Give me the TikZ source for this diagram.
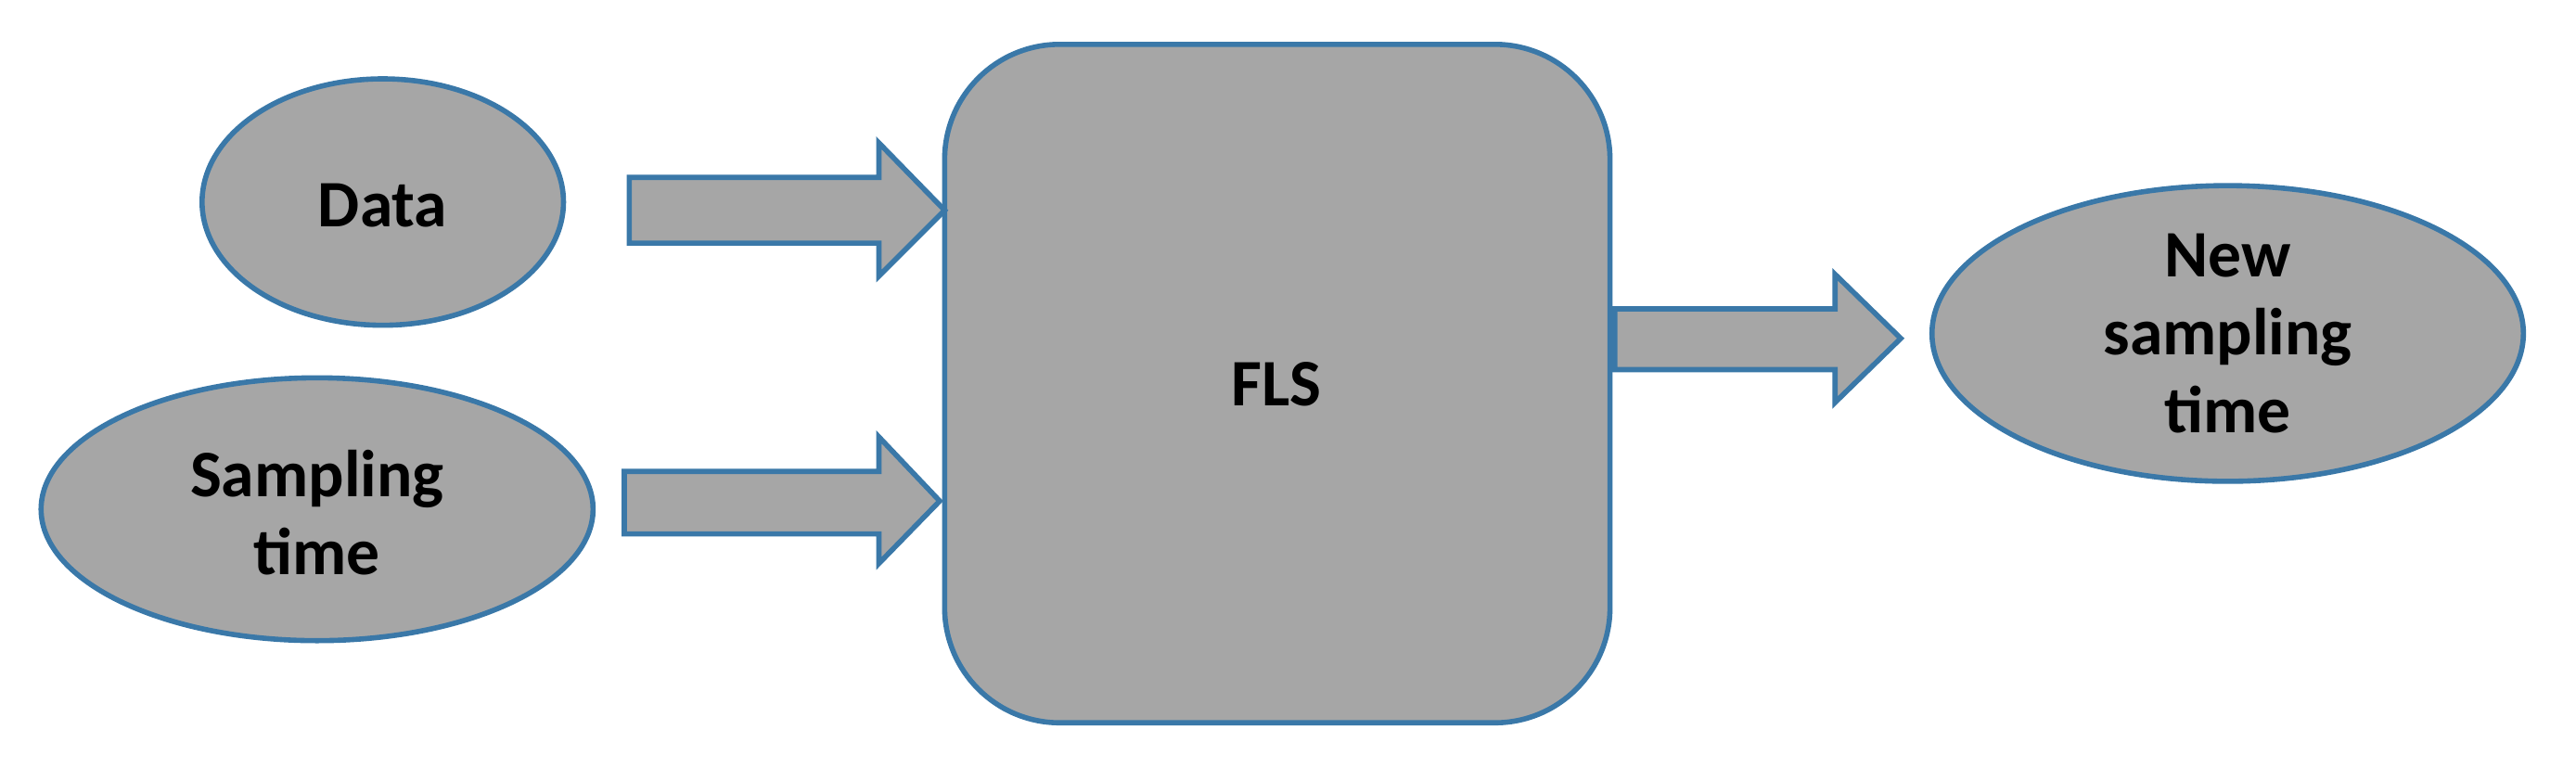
\documentclass[tikz,border=0pt]{standalone}
\usepackage{fontspec}
\setmainfont{Carlito}
\definecolor{boxfill}{HTML}{A6A6A6}
\definecolor{boxline}{HTML}{3A78A8}
\begin{document}
\begin{tikzpicture}[x=0.01cm,y=-0.01cm,
  shapestyle/.style={fill=boxfill,draw=boxline,line width=0.9pt},
  lbl/.style={font=\fontsize{11.5}{13.5}\selectfont\bfseries,align=center}]
\useasboundingbox (0,0) rectangle (1568,467);
% ellipses
\draw[shapestyle] (233,123) ellipse [x radius=110,y radius=75];
\node[lbl] (data) at (233,125) {Data};
\draw[shapestyle] (193,310) ellipse [x radius=168,y radius=80];
\node[lbl] (samp) at (193,312) {Sampling\\time};
\draw[shapestyle] (1356,203) ellipse [x radius=180,y radius=90];
\node[lbl] (new) at (1356,203) {New\\sampling\\time};
% FLS block
\draw[shapestyle,rounded corners=0.7cm] (575,27) rectangle (980,440);
\node[lbl] (fls) at (777,234) {FLS};
% block arrows
\draw[shapestyle] (383,108) -- (535,108) -- (535,87) -- (575,128) -- (535,168) -- (535,148) -- (383,148) -- cycle;
\draw[shapestyle] (380,287) -- (535,287) -- (535,266) -- (572,305) -- (535,343) -- (535,325) -- (380,325) -- cycle;
\draw[shapestyle] (983,188) -- (1117,188) -- (1117,167) -- (1157,206) -- (1117,245) -- (1117,225) -- (983,225) -- cycle;
\end{tikzpicture}
\end{document}
